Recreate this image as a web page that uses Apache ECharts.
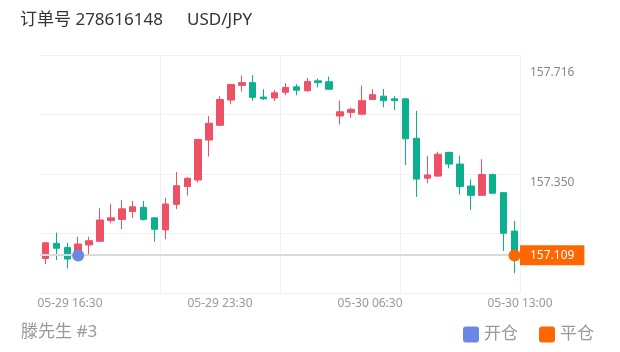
<!DOCTYPE html>
<html><head><meta charset="utf-8">
<script src="https://cdn.jsdelivr.net/npm/echarts@6/dist/echarts.min.js"></script>
<style>html,body{margin:0;padding:0;background:#fff}#c{width:620px;height:352px}</style>
</head><body><div id="c"></div>
<script>
// ---- data ----
const opens  = [157.099,157.149,157.135,157.110,157.144,157.156,157.225,157.229,157.255,157.269,157.234,157.194,157.279,157.338,157.360,157.493,157.542,157.626,157.675,157.684,157.636,157.633,157.652,157.670,157.657,157.690,157.687,157.573,157.585,157.579,157.628,157.639,157.630,157.630,157.499,157.366,157.373,157.452,157.413,157.340,157.309,157.378,157.318,157.190];
const closes = [157.151,157.133,157.097,157.147,157.158,157.227,157.234,157.264,157.271,157.229,157.196,157.280,157.341,157.366,157.495,157.549,157.628,157.678,157.684,157.635,157.630,157.650,157.668,157.659,157.688,157.684,157.662,157.587,157.595,157.624,157.644,157.624,157.624,157.497,157.363,157.377,157.446,157.413,157.338,157.309,157.378,157.316,157.183,157.109];
const lows   = [157.080,157.094,157.066,157.104,157.113,157.155,157.216,157.196,157.234,157.225,157.155,157.163,157.263,157.308,157.352,157.438,157.541,157.612,157.654,157.624,157.626,157.623,157.642,157.642,157.654,157.668,157.661,157.545,157.567,157.578,157.627,157.602,157.593,157.410,157.304,157.349,157.372,157.399,157.312,157.260,157.308,157.313,157.124,157.050];
const highs  = [157.153,157.185,157.151,157.171,157.171,157.266,157.280,157.293,157.290,157.290,157.236,157.301,157.387,157.369,157.497,157.573,157.639,157.680,157.708,157.709,157.662,157.659,157.682,157.679,157.699,157.698,157.704,157.624,157.601,157.674,157.662,157.663,157.639,157.632,157.590,157.440,157.454,157.454,157.441,157.362,157.429,157.381,157.319,157.224];
const xTickLabels = ['05-29 16:30','05-29 23:30','05-30 06:30','05-30 13:00'];
const yTickValues = [157.350, 157.716];
const openIndex = 3, openPrice = 157.109;
const closeIndex = 43, closePrice = 157.109;
const orderNo = '278616148', symbolName = 'USD/JPY', account = '滕先生 #3';

const categories = opens.map((_, i) => String(i));
const candles = opens.map((o, i) => [o, closes[i], lows[i], highs[i]]);

const FONT = 'Noto Sans, "Noto Sans CJK SC", sans-serif';
const UP = '#EE5166', DOWN = '#0BB18E', BLUE = '#6A88E2', ORANGE = '#FF6600';
const GRID = {left: 40, right: 100, top: 55, bottom: 59};
const SQUARE = 'path://M3,0H13A3,3 0 0 1 16,3V13A3,3 0 0 1 13,16H3A3,3 0 0 1 0,13V3A3,3 0 0 1 3,0Z';

const chart = echarts.init(document.getElementById('c'), null, {renderer: 'canvas'});
chart.setOption({
  animation: false,
  textStyle: {fontFamily: FONT},
  grid: [Object.assign({}, GRID), Object.assign({}, GRID)],
  xAxis: [
    {type: 'value', gridIndex: 0, position: 'bottom', min: -0.2, max: 3,
     axisLine: {show: false}, axisTick: {show: false}, splitLine: {show: false},
     axisLabel: {customValues: [0,1,2,3], formatter: v => xTickLabels[Math.round(v)] || '',
       color: '#999', fontSize: 12, margin: 5, fontFamily: FONT}},
    {type: 'category', gridIndex: 0, position: 'top', data: categories, boundaryGap: true, show: false},
    {type: 'value', gridIndex: 1, min: 0, max: 4, interval: 1,
     axisLine: {show: false}, axisTick: {show: false}, axisLabel: {show: false},
     splitLine: {show: true, showMinLine: false, lineStyle: {color: '#f1f1f1', width: 1}}}
  ],
  yAxis: [
    {type: 'value', gridIndex: 0, position: 'right', min: 156.984, max: 157.776, scale: true,
     axisLine: {show: false}, axisTick: {show: false}, splitLine: {show: false},
     axisLabel: {customValues: yTickValues, formatter: v => v.toFixed(3), color: '#888', fontSize: 12, margin: 10, fontFamily: FONT}},
    {type: 'value', gridIndex: 1, min: 0, max: 4, interval: 1,
     axisLine: {show: false}, axisTick: {show: false}, axisLabel: {show: false},
     splitLine: {show: true, lineStyle: {color: '#f1f1f1', width: 1}}}
  ],
  legend: {
    data: ['开仓', '平仓'], right: 21, top: 321, icon: SQUARE,
    itemWidth: 16, itemHeight: 16, itemGap: 21,
    textStyle: {color: '#999', fontSize: 17, fontFamily: FONT}
  },
  graphic: [
    {type: 'text', left: 20, top: 12, style: {text: '订单号 ' + orderNo, font: '17px ' + FONT, fill: '#333'}},
    {type: 'text', left: 187, top: 12, style: {text: symbolName, font: '17px ' + FONT, fill: '#333'}},
    {type: 'text', left: 21, top: 324, style: {text: account, font: '17px ' + FONT, fill: '#999'}}
  ],
  series: [
    {type: 'candlestick', xAxisIndex: 1, yAxisIndex: 0, data: candles, barWidth: 7,
     itemStyle: {color: UP, color0: DOWN, borderColor: UP, borderColor0: DOWN, borderWidth: 1},
     markLine: {silent: true, symbol: 'none',
       lineStyle: {color: '#dadada', width: 2, type: 'solid'},
       label: {show: true, position: 'end', distance: 0, formatter: () => closePrice.toFixed(3),
         color: '#fff', backgroundColor: ORANGE, padding: [4, 10, 4, 10], fontSize: 12, fontFamily: FONT},
       data: [{yAxis: closePrice}]}},
    {type: 'scatter', name: '开仓', xAxisIndex: 1, yAxisIndex: 0, symbolSize: 12, z: 5,
     itemStyle: {color: BLUE, opacity: 1}, data: [[categories[openIndex], openPrice]]},
    {type: 'scatter', name: '平仓', xAxisIndex: 1, yAxisIndex: 0, symbolSize: 12, z: 5,
     itemStyle: {color: ORANGE, opacity: 1}, data: [[categories[closeIndex], closePrice]]}
  ]
});
</script></body></html>
